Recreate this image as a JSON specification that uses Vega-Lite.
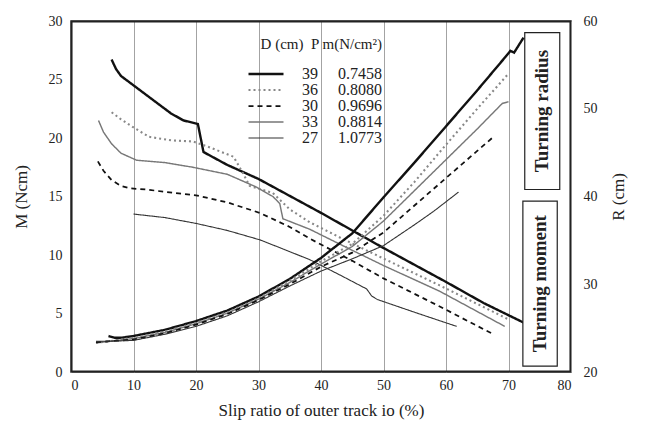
{
  "$schema": "https://vega.github.io/schema/vega-lite/v6.json",
  "width": 500,
  "height": 351,
  "autosize": "none",
  "padding": {"left": 71, "top": 21, "right": 74, "bottom": 72},
  "datasets": {
    "moment": [
      {"series": "39", "x": 6.5, "v": 26.7}, {"series": "39", "x": 7.2, "v": 25.9}, {"series": "39", "x": 8, "v": 25.3}, {"series": "39", "x": 10, "v": 24.5}, {"series": "39", "x": 13, "v": 23.3}, {"series": "39", "x": 16, "v": 22.1}, {"series": "39", "x": 18, "v": 21.5}, {"series": "39", "x": 20.3, "v": 21.2}, {"series": "39", "x": 21.2, "v": 18.8}, {"series": "39", "x": 25, "v": 17.7}, {"series": "39", "x": 30, "v": 16.5}, {"series": "39", "x": 40, "v": 13.6}, {"series": "39", "x": 50, "v": 10.6}, {"series": "39", "x": 60, "v": 7.7}, {"series": "39", "x": 66, "v": 5.9}, {"series": "39", "x": 72.5, "v": 4.2},
      {"series": "36", "x": 6.5, "v": 22.2}, {"series": "36", "x": 8, "v": 21.6}, {"series": "36", "x": 10, "v": 20.9}, {"series": "36", "x": 12.5, "v": 20.1}, {"series": "36", "x": 16, "v": 19.8}, {"series": "36", "x": 19.5, "v": 19.7}, {"series": "36", "x": 21.7, "v": 19.3}, {"series": "36", "x": 26, "v": 18.4}, {"series": "36", "x": 27.3, "v": 17.2}, {"series": "36", "x": 28.6, "v": 15.9}, {"series": "36", "x": 32.3, "v": 15.3}, {"series": "36", "x": 35, "v": 13.9}, {"series": "36", "x": 38.2, "v": 12.8}, {"series": "36", "x": 43, "v": 11.5}, {"series": "36", "x": 50, "v": 9.7}, {"series": "36", "x": 59, "v": 7.4}, {"series": "36", "x": 70, "v": 4.5},
      {"series": "33", "x": 4.4, "v": 21.5}, {"series": "33", "x": 5.2, "v": 20.5}, {"series": "33", "x": 6.5, "v": 19.5}, {"series": "33", "x": 8, "v": 18.7}, {"series": "33", "x": 10.5, "v": 18.1}, {"series": "33", "x": 15, "v": 17.9}, {"series": "33", "x": 19.5, "v": 17.5}, {"series": "33", "x": 25, "v": 16.9}, {"series": "33", "x": 29.7, "v": 15.8}, {"series": "33", "x": 32.3, "v": 15.0}, {"series": "33", "x": 33.4, "v": 14.4}, {"series": "33", "x": 33.9, "v": 13.1}, {"series": "33", "x": 38.2, "v": 12.2}, {"series": "33", "x": 45, "v": 10.4}, {"series": "33", "x": 50, "v": 9.1}, {"series": "33", "x": 59, "v": 6.9}, {"series": "33", "x": 69.4, "v": 3.9},
      {"series": "30", "x": 4.3, "v": 18.0}, {"series": "30", "x": 5.2, "v": 17.2}, {"series": "30", "x": 6.5, "v": 16.4}, {"series": "30", "x": 8, "v": 15.9}, {"series": "30", "x": 9.4, "v": 15.7}, {"series": "30", "x": 12, "v": 15.6}, {"series": "30", "x": 15, "v": 15.4}, {"series": "30", "x": 20, "v": 15.1}, {"series": "30", "x": 25, "v": 14.5}, {"series": "30", "x": 30.2, "v": 13.6}, {"series": "30", "x": 35, "v": 12.4}, {"series": "30", "x": 38.2, "v": 11.4}, {"series": "30", "x": 45, "v": 9.5}, {"series": "30", "x": 50, "v": 8.0}, {"series": "30", "x": 59, "v": 5.6}, {"series": "30", "x": 67.3, "v": 3.3},
      {"series": "27", "x": 10, "v": 13.5}, {"series": "27", "x": 15, "v": 13.2}, {"series": "27", "x": 20, "v": 12.7}, {"series": "27", "x": 25, "v": 12.1}, {"series": "27", "x": 30.2, "v": 11.3}, {"series": "27", "x": 34, "v": 10.5}, {"series": "27", "x": 38.2, "v": 9.6}, {"series": "27", "x": 43, "v": 8.3}, {"series": "27", "x": 47.3, "v": 7.1}, {"series": "27", "x": 48.1, "v": 6.5}, {"series": "27", "x": 49, "v": 6.2}, {"series": "27", "x": 55, "v": 5.1}, {"series": "27", "x": 61.7, "v": 3.9}
    ],
    "radius": [
      {"series": "39", "x": 6, "v": 24.1}, {"series": "39", "x": 7, "v": 23.9}, {"series": "39", "x": 8, "v": 23.9}, {"series": "39", "x": 10, "v": 24.1}, {"series": "39", "x": 15, "v": 24.8}, {"series": "39", "x": 20, "v": 25.8}, {"series": "39", "x": 25, "v": 27.0}, {"series": "39", "x": 30, "v": 28.6}, {"series": "39", "x": 35, "v": 30.6}, {"series": "39", "x": 40, "v": 33.0}, {"series": "39", "x": 45, "v": 35.8}, {"series": "39", "x": 50, "v": 39.9}, {"series": "39", "x": 55, "v": 43.9}, {"series": "39", "x": 60, "v": 48.0}, {"series": "39", "x": 65, "v": 52.1}, {"series": "39", "x": 69.5, "v": 55.9}, {"series": "39", "x": 70.3, "v": 56.6}, {"series": "39", "x": 70.9, "v": 56.4}, {"series": "39", "x": 72.4, "v": 58.1},
      {"series": "36", "x": 4, "v": 23.3}, {"series": "36", "x": 6, "v": 23.5}, {"series": "36", "x": 10, "v": 23.9}, {"series": "36", "x": 15, "v": 24.6}, {"series": "36", "x": 20, "v": 25.6}, {"series": "36", "x": 25, "v": 26.8}, {"series": "36", "x": 30, "v": 28.4}, {"series": "36", "x": 35, "v": 30.4}, {"series": "36", "x": 40, "v": 32.6}, {"series": "36", "x": 45, "v": 34.6}, {"series": "36", "x": 50, "v": 37.8}, {"series": "36", "x": 55, "v": 41.7}, {"series": "36", "x": 60, "v": 45.9}, {"series": "36", "x": 65, "v": 50.0}, {"series": "36", "x": 70, "v": 54.0},
      {"series": "33", "x": 4, "v": 23.3}, {"series": "33", "x": 6, "v": 23.5}, {"series": "33", "x": 10, "v": 23.8}, {"series": "33", "x": 15, "v": 24.5}, {"series": "33", "x": 20, "v": 25.5}, {"series": "33", "x": 25, "v": 26.7}, {"series": "33", "x": 30, "v": 28.3}, {"series": "33", "x": 35, "v": 30.2}, {"series": "33", "x": 40, "v": 32.3}, {"series": "33", "x": 45, "v": 34.3}, {"series": "33", "x": 50, "v": 37.2}, {"series": "33", "x": 55, "v": 40.7}, {"series": "33", "x": 60, "v": 44.2}, {"series": "33", "x": 65, "v": 47.7}, {"series": "33", "x": 69, "v": 50.6}, {"series": "33", "x": 70, "v": 50.8},
      {"series": "30", "x": 4, "v": 23.4}, {"series": "30", "x": 6, "v": 23.5}, {"series": "30", "x": 10, "v": 23.7}, {"series": "30", "x": 15, "v": 24.4}, {"series": "30", "x": 20, "v": 25.4}, {"series": "30", "x": 25, "v": 26.6}, {"series": "30", "x": 30, "v": 28.2}, {"series": "30", "x": 35, "v": 30.0}, {"series": "30", "x": 40, "v": 32.0}, {"series": "30", "x": 45, "v": 33.6}, {"series": "30", "x": 50, "v": 35.9}, {"series": "30", "x": 55, "v": 39.0}, {"series": "30", "x": 60, "v": 42.1}, {"series": "30", "x": 65, "v": 45.2}, {"series": "30", "x": 67.6, "v": 46.8},
      {"series": "27", "x": 4, "v": 23.5}, {"series": "27", "x": 6, "v": 23.5}, {"series": "27", "x": 10, "v": 23.6}, {"series": "27", "x": 15, "v": 24.3}, {"series": "27", "x": 20, "v": 25.2}, {"series": "27", "x": 25, "v": 26.4}, {"series": "27", "x": 30, "v": 28.0}, {"series": "27", "x": 35, "v": 29.8}, {"series": "27", "x": 40, "v": 31.5}, {"series": "27", "x": 45, "v": 32.9}, {"series": "27", "x": 50, "v": 34.4}, {"series": "27", "x": 55, "v": 36.8}, {"series": "27", "x": 58, "v": 38.3}, {"series": "27", "x": 62, "v": 40.5}
    ],
    "boxes": [
      {"label": "Turning radius", "x1": 72.6, "x2": 78.2, "y1": 15.6, "y2": 29.0, "xc": 75.4, "yc": 22.3},
      {"label": "Turning moment", "x1": 72.3, "x2": 77.8, "y1": 0.5, "y2": 14.6, "xc": 75.05, "yc": 7.55}
    ],
    "border": [
      {"x1": 0.12, "x2": 79.88, "y1": 0.05, "y2": 29.95}
    ]
  },
  "layer": [
    {
      "layer": [
        {
          "data": {"name": "border"},
          "mark": {"type": "rect", "fill": "white", "fillOpacity": 0, "stroke": "#222222", "strokeWidth": 1.6, "strokeOpacity": 1},
          "encoding": {
            "x": {"field": "x1", "type": "quantitative", "scale": {"domain": [0, 80], "nice": false},
                  "axis": {"values": [0, 10, 20, 30, 40, 50, 60, 70, 80], "grid": true, "title": "Slip ratio of outer track  io (%)", "labelPadding": 6, "titlePadding": 10}},
            "x2": {"field": "x2"},
            "y": {"field": "y1", "type": "quantitative", "scale": {"domain": [0, 30], "nice": false},
                  "axis": {"values": [0, 5, 10, 15, 20, 25, 30], "title": "M (Ncm)", "labelPadding": 9, "titlePadding": 18}},
            "y2": {"field": "y2"}
          }
        },
        {
          "data": {"name": "moment"},
          "mark": {"type": "line", "strokeCap": "butt"},
          "encoding": {
            "x": {"field": "x", "type": "quantitative"},
            "y": {"field": "v", "type": "quantitative"},
            "color": {"field": "series", "type": "nominal", "title": "D (cm)\u00a0\u00a0P m(N/cm²)",
                      "scale": {"domain": ["39", "36", "30", "33", "27"], "range": ["#111111", "#888888", "#111111", "#777777", "#333333"]},
                      "legend": {"labelExpr": "datum.label == '39' ? '39\u00a0\u00a0\u00a0\u00a0\u00a00.7458' : datum.label == '36' ? '36\u00a0\u00a0\u00a0\u00a0\u00a00.8080' : datum.label == '30' ? '30\u00a0\u00a0\u00a0\u00a0\u00a00.9696' : datum.label == '33' ? '33\u00a0\u00a0\u00a0\u00a0\u00a00.8814' : '27\u00a0\u00a0\u00a0\u00a0\u00a01.0773'"}},
            "strokeDash": {"field": "series", "type": "nominal", "title": "D (cm)\u00a0\u00a0P m(N/cm²)",
                      "scale": {"domain": ["39", "36", "30", "33", "27"], "range": [[1, 0], [2, 3], [5, 4], [1, 0], [1, 0]]},
                      "legend": {"labelExpr": "datum.label == '39' ? '39\u00a0\u00a0\u00a0\u00a0\u00a00.7458' : datum.label == '36' ? '36\u00a0\u00a0\u00a0\u00a0\u00a00.8080' : datum.label == '30' ? '30\u00a0\u00a0\u00a0\u00a0\u00a00.9696' : datum.label == '33' ? '33\u00a0\u00a0\u00a0\u00a0\u00a00.8814' : '27\u00a0\u00a0\u00a0\u00a0\u00a01.0773'"}},
            "strokeWidth": {"field": "series", "type": "nominal", "title": "D (cm)\u00a0\u00a0P m(N/cm²)",
                      "scale": {"domain": ["39", "36", "30", "33", "27"], "range": [2.4, 1.1, 2.4, 1.0, 1.5]},
                      "legend": {"labelExpr": "datum.label == '39' ? '39\u00a0\u00a0\u00a0\u00a0\u00a00.7458' : datum.label == '36' ? '36\u00a0\u00a0\u00a0\u00a0\u00a00.8080' : datum.label == '30' ? '30\u00a0\u00a0\u00a0\u00a0\u00a00.9696' : datum.label == '33' ? '33\u00a0\u00a0\u00a0\u00a0\u00a00.8814' : '27\u00a0\u00a0\u00a0\u00a0\u00a01.0773'"}}
          }
        },
        {
          "data": {"name": "boxes"},
          "mark": {"type": "rect", "fill": "white", "stroke": "#222222", "strokeWidth": 1.2},
          "encoding": {
            "x": {"field": "x1", "type": "quantitative"},
            "x2": {"field": "x2"},
            "y": {"field": "y1", "type": "quantitative"},
            "y2": {"field": "y2"}
          }
        },
        {
          "data": {"name": "boxes"},
          "mark": {"type": "text", "angle": 270, "align": "center", "baseline": "middle", "font": "Liberation Serif", "fontWeight": "bold", "fontSize": 19, "color": "#222222"},
          "encoding": {
            "x": {"field": "xc", "type": "quantitative"},
            "y": {"field": "yc", "type": "quantitative"},
            "text": {"field": "label"}
          }
        }
      ]
    },
    {
      "data": {"name": "radius"},
      "mark": {"type": "line", "strokeCap": "butt"},
      "encoding": {
        "x": {"field": "x", "type": "quantitative"},
        "y": {"field": "v", "type": "quantitative", "scale": {"domain": [20, 60], "nice": false},
              "axis": {"orient": "right", "values": [20, 30, 40, 50, 60], "title": "R (cm)", "titleAngle": 270, "labelPadding": 12, "titlePadding": 30}},
        "color": {"field": "series", "type": "nominal", "title": "D (cm)\u00a0\u00a0P m(N/cm²)"},
        "strokeDash": {"field": "series", "type": "nominal", "title": "D (cm)\u00a0\u00a0P m(N/cm²)"},
        "strokeWidth": {"field": "series", "type": "nominal", "title": "D (cm)\u00a0\u00a0P m(N/cm²)"}
      }
    }
  ],
  "resolve": {"scale": {"y": "independent"}},
  "config": {
    "view": {"stroke": "#222222", "strokeWidth": 1.5},
    "axis": {
      "labelFont": "Liberation Serif", "labelFontSize": 14, "labelColor": "#222222",
      "titleFont": "Liberation Serif", "titleFontSize": 17, "titleFontWeight": "normal", "titleColor": "#222222",
      "domain": false, "ticks": false, "gridColor": "#999999", "gridWidth": 0.9
    },
    "axisY": {"grid": false},
    "legend": {
      "orient": "none", "legendX": 187, "legendY": 16,
      "symbolType": "M-5,0H5", "symbolSize": 49, "padding": 0,
      "labelFont": "Liberation Serif", "labelFontSize": 16, "labelColor": "#222222", "labelOffset": 28,
      "titleFont": "Liberation Serif", "titleFontSize": 15, "titleFontWeight": "normal", "titleColor": "#222222",
      "titleAnchor": "end", "titlePadding": 14,
      "rowPadding": 0
    }
  }
}
